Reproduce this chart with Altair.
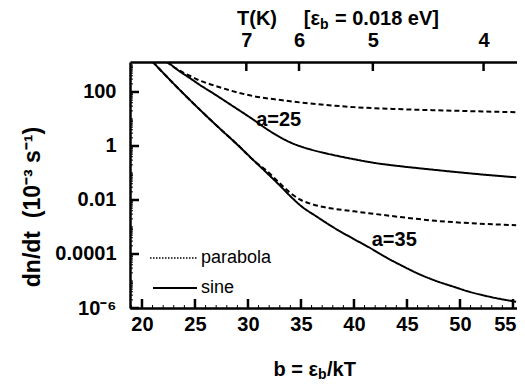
import altair as alt
import pandas as pd

# ---------------- data ----------------
# a = 25, parabola (dashed)
b_p25 = [22.3, 23.5, 24.5, 25.5, 26.8, 28.4, 30.6, 33.1, 35.0, 37.9, 40.0, 44.6, 50.0, 55.3]
v_p25 = [1.32e3, 6.3e2, 4.0e2, 2.6e2, 1.74e2, 1.12e2, 69.2, 50.1, 40.7, 31.6, 27.5, 22.9, 20.0, 17.8]
# a = 25, sine (solid)
b_s25 = [22.4, 23.5, 24.5, 25.5, 26.8, 28.4, 30.6, 31.8, 33.1, 34.0, 35.0, 36.0, 37.0, 38.0,
         40.0, 42.0, 44.6, 47.5, 50.0, 52.5, 55.3]
v_s25 = [1.32e3, 603, 331, 178, 85.1, 33.1, 8.91, 4.17, 2.04, 1.35, 0.955, 0.724, 0.575, 0.468,
         0.324, 0.234, 0.174, 0.132, 0.105, 0.0851, 0.0692]
# a = 35, parabola (dashed)
b_p35 = [21.0, 23.0, 25.0, 27.0, 29.0, 30.5, 32.0, 33.1, 34.0, 35.0, 36.0, 37.0, 38.0, 40.0,
         41.4, 44.6, 47.7, 51.0, 55.3]
v_p35 = [1.32e3, 200, 33.1, 5.89, 1.12, 0.302, 0.1, 0.038, 0.0182, 0.01, 7.08e-3, 5.62e-3,
         4.79e-3, 3.8e-3, 3.24e-3, 2.29e-3, 1.70e-3, 1.38e-3, 1.17e-3]
# a = 35, sine (solid)
b_s35 = [21.0, 23.0, 25.0, 27.0, 29.0, 30.5, 32.0, 33.1, 34.0, 35.0, 36.5, 38.0, 40.0, 41.4,
         43.0, 44.6, 46.0, 47.7, 49.3, 50.9, 53.0, 55.3]
v_s35 = [1.32e3, 200, 33.1, 5.89, 1.12, 0.302, 0.0832, 0.0316, 0.0138, 6.03e-3, 2.40e-3, 1.0e-3,
         3.55e-4, 1.78e-4, 7.59e-5, 3.55e-5, 1.91e-5, 1.02e-5, 6.31e-6, 3.98e-6, 2.51e-6, 1.70e-6]

x_ticks = [20, 25, 30, 35, 40, 45, 50, 55]
x_minor = [i for i in range(19, 56) if i % 5]
t_ticks = [7, 6, 5, 4]
EB_OVER_K = 208.9  # 0.018 eV / k, in K
t_pos = [EB_OVER_K / t for t in t_ticks]
y_ticks = [1e2, 1.0, 1e-2, 1e-4, 1e-6]
y_labels = ["100", "1", "0.01", "0.0001", "10⁻⁶"]
y_minor = [k * 10.0 ** n for n in range(-6, 3) for k in range(1, 10)
           if not (k == 1 and n % 2 == 0)] + [1e3]

rows = []
for name, kind, bs, vs in [("p25", "parabola", b_p25, v_p25), ("s25", "sine", b_s25, v_s25),
                           ("p35", "parabola", b_p35, v_p35), ("s35", "sine", b_s35, v_s35)]:
    for b, v in zip(bs, vs):
        rows.append({"series": name, "kind": kind, "b": b, "v": v})
df = pd.DataFrame(rows)

W, H = 387, 246
FONT = "Liberation Sans"
XS = alt.Scale(domain=[18.87, 55.38], nice=False, zero=False)
YS = alt.Scale(type="log", domain=[1e-6, 1.29e3], nice=False)

ylab_expr = ""
for v, l in zip(y_ticks[:-1], y_labels[:-1]):
    ylab_expr += f"datum.value > {v / 2} ? '{l}' : "
ylab_expr += f"'{y_labels[-1]}'"

axis_style = dict(domainColor="black", domainWidth=2.5, labelColor="black", labelFont=FONT,
                  labelFontWeight="bold", labelFontSize=20, ticks=False, grid=False, title=None)

lines = alt.Chart(df).mark_line(color="black", strokeWidth=2, clip=True,
                                interpolate="monotone").encode(
    x=alt.X("b:Q", scale=XS, axis=alt.Axis(values=x_ticks, labelPadding=6, labelFlush=6,
                                           labelFlushOffset=3, **axis_style)),
    y=alt.Y("v:Q", scale=YS, axis=alt.Axis(values=y_ticks, labelExpr=ylab_expr,
                                           labelPadding=14, **axis_style)),
    strokeDash=alt.StrokeDash("kind:N", scale=alt.Scale(domain=["parabola", "sine"],
                                                        range=[[5, 3], [1, 0]]), legend=None),
    detail="series:N",
)

top_axis = alt.Chart(pd.DataFrame({"b": t_pos})).mark_rule(color="black", strokeWidth=2.5).encode(
    x=alt.X("b:Q", scale=XS, axis=alt.Axis(orient="top", values=t_pos,
                                           labelExpr=f"'' + round({EB_OVER_K} / datum.value)",
                                           labelPadding=12, **axis_style)),
    y=alt.value(0), y2=alt.value(9),
)

bot_major = alt.Chart(pd.DataFrame({"b": x_ticks})).mark_rule(color="black", strokeWidth=2.5).encode(
    x=alt.X("b:Q", scale=XS, axis=None), y=alt.value(H), y2=alt.value(H - 9))
bot_minor = alt.Chart(pd.DataFrame({"b": x_minor})).mark_rule(color="black", strokeWidth=1).encode(
    x=alt.X("b:Q", scale=XS, axis=None), y=alt.value(H), y2=alt.value(H - 3))
left_major = alt.Chart(pd.DataFrame({"v": y_ticks})).mark_rule(color="black", strokeWidth=2.5).encode(
    y=alt.Y("v:Q", scale=YS, axis=None), x=alt.value(0), x2=alt.value(9))
left_minor = alt.Chart(pd.DataFrame({"v": y_minor})).mark_rule(color="black", strokeWidth=1).encode(
    y=alt.Y("v:Q", scale=YS, axis=None), x=alt.value(0), x2=alt.value(3))

ann = alt.Chart(pd.DataFrame({"b": [32.9, 43.8], "v": [9.1, 3.3e-4], "t": ["a=25", "a=35"]})).mark_text(
    font=FONT, fontSize=20, fontWeight="bold", color="black", align="center", baseline="middle").encode(
    x=alt.X("b:Q", scale=XS, axis=None), y=alt.Y("v:Q", scale=YS, axis=None), text="t:N")


def txt(t, x, y, size=20, weight="bold", align="left", angle=0):
    return alt.Chart(pd.DataFrame({"t": [t]})).mark_text(
        font=FONT, fontSize=size, fontWeight=weight, color="black", align=align,
        baseline="middle", angle=angle).encode(x=alt.value(x), y=alt.value(y), text="t:N")


def leg_line(x1, x2, y, dash, width):
    return alt.Chart(pd.DataFrame({"t": [0]})).mark_rule(
        color="black", strokeWidth=width, strokeDash=dash).encode(
        x=alt.value(x1), x2=alt.value(x2), y=alt.value(y))


legend = [
    leg_line(20, 68, 196, [1.5, 1.5], 1.5),
    txt("parabola", 71, 196, size=18, weight="normal"),
    leg_line(23, 67, 226, [1, 0], 2),
    txt("sine", 71, 226, size=18, weight="normal"),
]

NB = "\u00a0"
titles = [
    txt("b = ε", 188, 308, align="right"),
    txt("b", 188, 313, size=14),
    txt("/kT", 197, 308),
    txt("T(K)", 127, -43, align="center"),
    txt("[ε", 190, -43, align="right"),
    txt("b", 190, -37, size=14),
    txt("= 0.018 eV]", 205, -43),
    txt(f"dn/dt{NB}{NB}(10⁻³{NB}s⁻¹)", -97, 145, size=23, align="center", angle=270),
]

chart = alt.layer(lines, top_axis, bot_major, bot_minor, left_major, left_minor, ann,
                  *legend, *titles).resolve_axis(x="independent", y="independent").properties(
    width=W, height=H, autosize=alt.AutoSizeParams(type="none"),
    padding={"left": 122, "top": 54, "right": 0, "bottom": 75},
).configure_view(stroke=None)

chart.save("out.html", embed_options={"renderer": "svg", "actions": False})
